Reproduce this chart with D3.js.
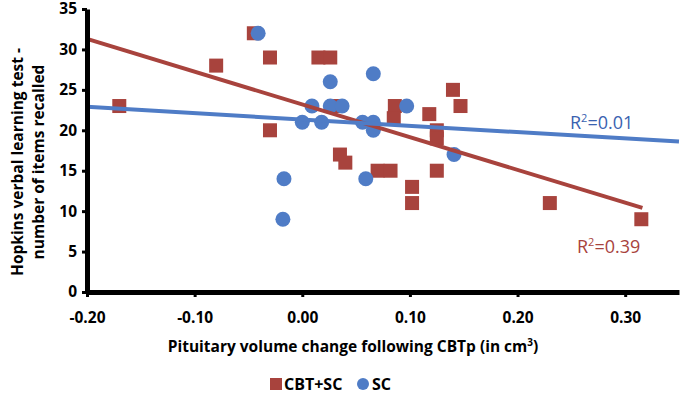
<!DOCTYPE html>
<html>
<head>
<meta charset="utf-8">
<script src="https://cdn.jsdelivr.net/npm/d3@7"></script>
<style>
  body { margin: 0; background: #fff; }
  svg { display: block; font-family: "Open Sans", sans-serif; font-weight: bold; }
</style>
</head>
<body>
<div id="chart"></div>
<script>
// CBT+SC group (squares)
const cbtX = [-0.17, -0.08, -0.045, -0.03, -0.03, 0.015, 0.026, 0.03, 0.035, 0.04, 0.07, 0.082,
              0.086, 0.085, 0.102, 0.102, 0.118, 0.125, 0.125, 0.125, 0.14, 0.147, 0.23, 0.315]
const cbtY = [23, 28, 32, 29, 20, 29, 29, 23, 17, 16, 15, 15,
              23, 21.5, 13, 11, 22, 20, 19, 15, 25, 23, 11, 9]
// SC group (circles)
const scX = [-0.041, -0.017, -0.018, 0.0, 0.009, 0.018, 0.026, 0.026, 0.037, 0.056, 0.059,
             0.066, 0.066, 0.066, 0.097, 0.141]
const scY = [32, 14, 9, 21, 23, 21, 26, 23, 23, 21, 14,
             27, 21, 20, 23, 17]
// trend lines
const cbtTrendX = [-0.2, 0.316]
const cbtTrendY = [31.3, 10.4]
const scTrendX = [-0.2, 0.35]
const scTrendY = [22.9, 18.6]

const xTicks = [-0.2, -0.1, 0, 0.1, 0.2, 0.3]
const yTicks = [0, 5, 10, 15, 20, 25, 30, 35]

const red = "#A8433D"
const blue = "#4F7CC6"

const width = 682
const height = 394

const svg = d3.select("#chart")
    .append("svg")
    .attr("width", width)
    .attr("height", height)

const x = d3.scaleLinear()
    .domain([-0.2, 0.35])
    .range([87, 679])

const y = d3.scaleLinear()
    .domain([0, 35])
    .range([292, 9])

const layer_points = svg.append("g")
const layer_lines = svg.append("g")
const layer_axes = svg.append("g")
const layer_text = svg.append("g")

// squares
const sq = 14
layer_points.append("g")
    .selectAll("rect")
    .data(d3.zip(cbtX, cbtY))
    .enter().append("rect")
    .attr("x", d => x(d[0]) - sq/2)
    .attr("y", d => y(d[1]) - sq/2)
    .attr("width", sq)
    .attr("height", sq)
    .attr("fill", red)

// circles
layer_points.append("g")
    .selectAll("circle")
    .data(d3.zip(scX, scY))
    .enter().append("circle")
    .attr("cx", d => x(d[0]))
    .attr("cy", d => y(d[1]))
    .attr("r", 7.5)
    .attr("fill", blue)

const line = d3.line().x(d => x(d[0])).y(d => y(d[1]))

layer_lines.append("path")
    .attr("d", line(d3.zip(cbtTrendX, cbtTrendY)))
    .attr("stroke", red)
    .attr("stroke-width", 4)
    .attr("fill", "none")

layer_lines.append("path")
    .attr("d", line(d3.zip(scTrendX, scTrendY)))
    .attr("stroke", blue)
    .attr("stroke-width", 4)
    .attr("fill", "none")

// axes
const xAxis = layer_axes.append("g")
    .attr("transform", `translate(0,${y(0)})`)
    .call(d3.axisBottom(x).tickValues(xTicks).tickFormat(d => d.toFixed(2)).tickSize(5).tickSizeOuter(0))
xAxis.select(".domain").attr("stroke-width", 5)
xAxis.selectAll(".tick line").attr("stroke-width", 3)
xAxis.selectAll(".tick text")
    .attr("y", 20)
    .style("font-size", "15.5px")
    .style("font-family", "Open Sans")
    .style("font-weight", "bold")

const yAxis = layer_axes.append("g")
    .attr("transform", `translate(${x(-0.2)},0)`)
    .call(d3.axisLeft(y).tickValues(yTicks).tickSize(5).tickSizeOuter(0))
yAxis.select(".domain").attr("stroke-width", 5)
yAxis.selectAll(".tick line").attr("stroke-width", 3)
yAxis.selectAll(".tick text")
    .attr("x", -10)
    .style("font-size", "15.5px")
    .style("font-family", "Open Sans")
    .style("font-weight", "bold")

// y title
const yt = layer_text.append("text")
    .attr("transform", "translate(23,162) rotate(-90)")
    .attr("text-anchor", "middle")
    .style("font-size", "15.5px")
yt.append("tspan").attr("x", 0).attr("dy", 0).text("Hopkins verbal learning test -")
yt.append("tspan").attr("x", 0).attr("dy", 21).text("number of items recalled")

// x title
const xt = layer_text.append("text")
    .attr("x", 353)
    .attr("y", 352)
    .attr("text-anchor", "middle")
    .style("font-size", "15.5px")
xt.append("tspan").text("Pituitary volume change following CBTp (in cm")
xt.append("tspan").attr("dy", -6).style("font-size", "10px").text("3")
xt.append("tspan").attr("dy", 6).text(")")

// R² labels
function r2(px, py, color, val) {
    const t = layer_text.append("text")
        .attr("x", px).attr("y", py)
        .attr("fill", color)
        .style("font-size", "18px")
        .style("font-weight", "normal")
    t.append("tspan").text("R")
    t.append("tspan").attr("dy", -7).style("font-size", "11px").text("2")
    t.append("tspan").attr("dy", 7).text("=" + val)
}
r2(570, 129, "#3A62B0", "0.01")
r2(577, 253, "#A8433D", "0.39")

// legend
const lg = layer_text.append("g").attr("transform", "translate(0,384)")
lg.append("rect").attr("x", 270).attr("y", -6).attr("width", 12).attr("height", 12).attr("fill", red)
lg.append("text").attr("x", 284).attr("y", 5.5).style("font-size", "16px").text("CBT+SC")
lg.append("circle").attr("cx", 363).attr("cy", 0).attr("r", 6).attr("fill", blue)
lg.append("text").attr("x", 372).attr("y", 5.5).style("font-size", "16px").text("SC")
</script>
</body>
</html>
